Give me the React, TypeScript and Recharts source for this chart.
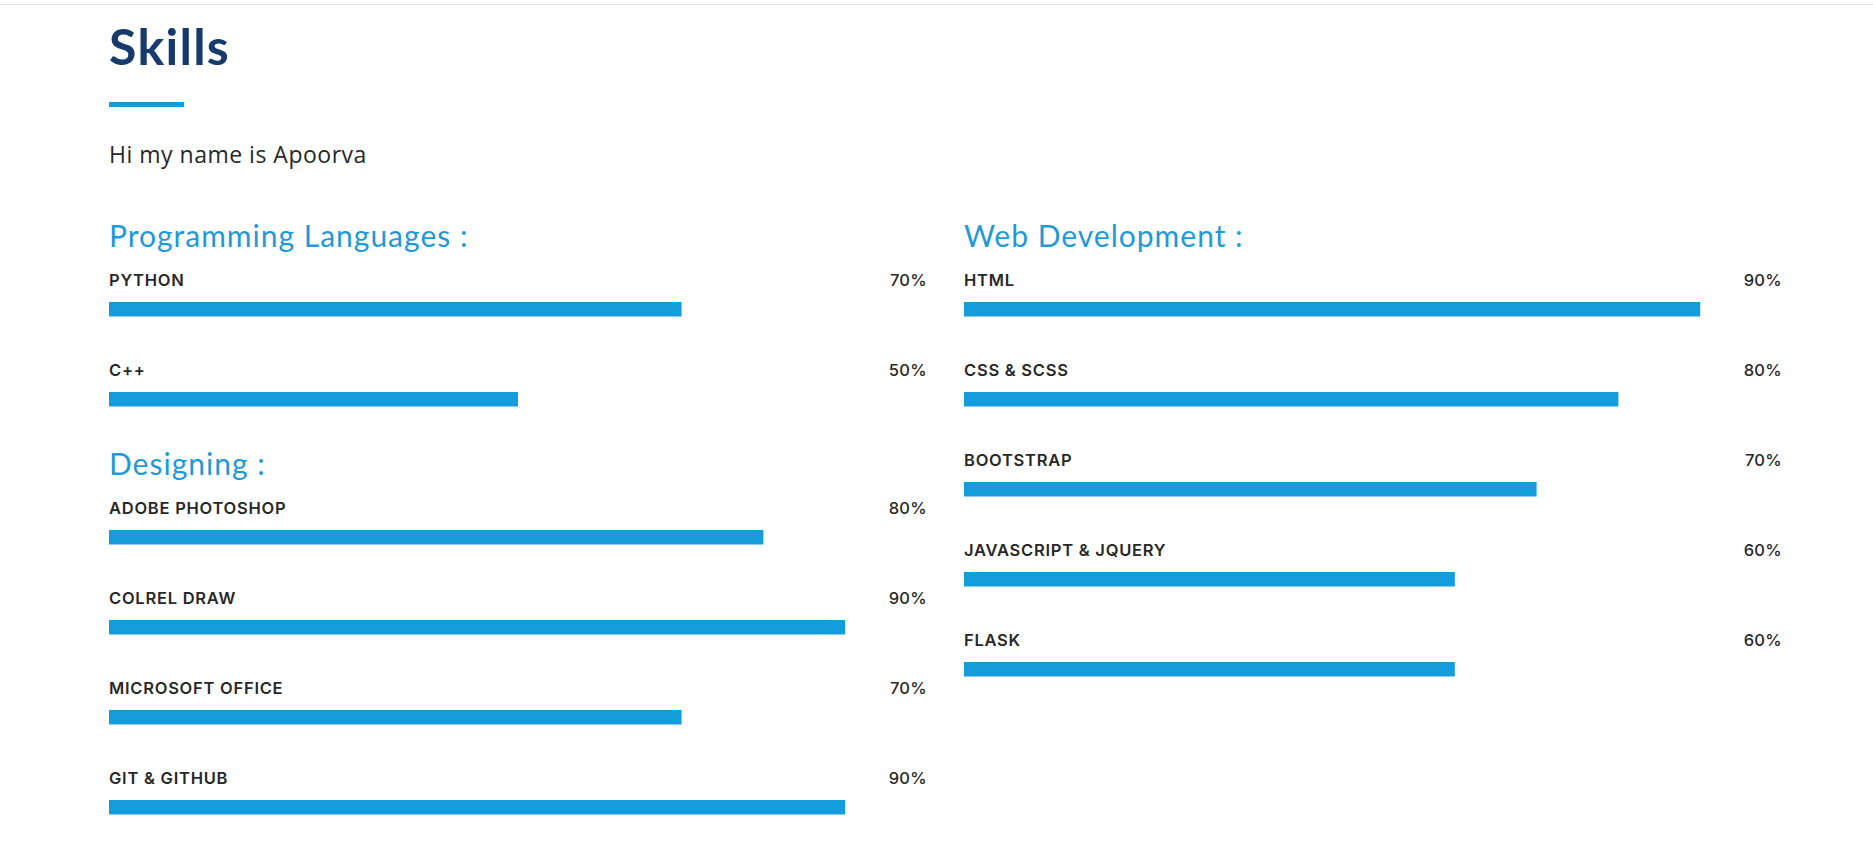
import React from 'react';
import { BarChart, Bar, XAxis, YAxis, LabelList } from 'recharts';

const programmingSkills = ['PYTHON', 'C++'];
const programmingValues = [70, 50];

const designingSkills = ['ADOBE PHOTOSHOP', 'COLREL DRAW', 'MICROSOFT OFFICE', 'GIT & GITHUB'];
const designingValues = [80, 90, 70, 90];

const webSkills = ['HTML', 'CSS & SCSS', 'BOOTSTRAP', 'JAVASCRIPT & JQUERY', 'FLASK'];
const webValues = [90, 80, 70, 60, 60];

const TRACK_W = 818;
const ROW_H = 90;
const BLUE = '#149ddd';
const labelFont = 'Inter, "Noto Sans", sans-serif';

interface SkillBarsProps {
  names: string[];
  values: number[];
  left: number;
  top: number;
}

function SkillBars({ names, values, left, top }: SkillBarsProps) {
  const data = names.map((name, i) => ({ name, value: values[i] }));

  const renderLabel = (props: any) => {
    const { x, y, value, index } = props;
    return (
      <g>
        <text x={x} y={y - 16} fill="#272829" fontFamily={labelFont} fontWeight={600} fontSize={16.5} letterSpacing={0.75}>
          {data[index].name}
        </text>
        <text x={x + TRACK_W} y={y - 16} textAnchor="end" fill="#272829" fontFamily={labelFont} fontWeight={500} fontSize={16.5} letterSpacing={0.3}>
          {value}%
        </text>
      </g>
    );
  };

  return (
    <div style={{ position: 'absolute', left, top }}>
      <BarChart
        width={TRACK_W}
        height={names.length * ROW_H}
        data={data}
        layout="vertical"
        margin={{ top: 0, right: 0, bottom: 0, left: 0 }}
      >
        <XAxis type="number" domain={[0, 100]} hide />
        <YAxis type="category" dataKey="name" hide width={0} />
        <Bar dataKey="value" fill={BLUE} barSize={14.5} isAnimationActive={false}>
          <LabelList dataKey="value" content={renderLabel} />
        </Bar>
      </BarChart>
    </div>
  );
}

const headingStyle: React.CSSProperties = {
  position: 'absolute',
  margin: 0,
  fontFamily: 'Lato, sans-serif',
  fontWeight: 400,
  fontSize: 30,
  lineHeight: '30px',
  letterSpacing: 1,
  color: '#1f9ad6',
  whiteSpace: 'nowrap',
};

export default function App() {
  return (
    <div style={{ position: 'absolute', left: 0, top: 0, width: 1873, height: 856, background: '#fff', overflow: 'hidden' }}>
      {/* header edge */}
      <div style={{ position: 'absolute', left: 0, top: 4, width: 1873, height: 1, background: '#e3e3e3' }} />

      <div style={{ position: 'absolute', left: 109, top: 20.6, fontFamily: 'Lato, sans-serif', fontWeight: 700, fontSize: 50, lineHeight: '50px', letterSpacing: 1.3, color: '#173b6c' }}>
        Skills
      </div>
      <div style={{ position: 'absolute', left: 109, top: 102, width: 75, height: 5, background: BLUE }} />

      <div style={{ position: 'absolute', left: 109, top: 143, fontFamily: '"Open Sans", sans-serif', fontSize: 23, lineHeight: '23px', letterSpacing: 0.5, color: '#272829' }}>
        Hi my name is Apoorva
      </div>

      <div style={{ ...headingStyle, left: 109, top: 220 }}>Programming Languages :</div>
      <div style={{ ...headingStyle, left: 109, top: 448 }}>Designing :</div>
      <div style={{ ...headingStyle, left: 964, top: 220 }}>Web Development :</div>

      <SkillBars names={programmingSkills} values={programmingValues} left={109} top={264} />
      <SkillBars names={designingSkills} values={designingValues} left={109} top={492} />
      <SkillBars names={webSkills} values={webValues} left={964} top={264} />
    </div>
  );
}
